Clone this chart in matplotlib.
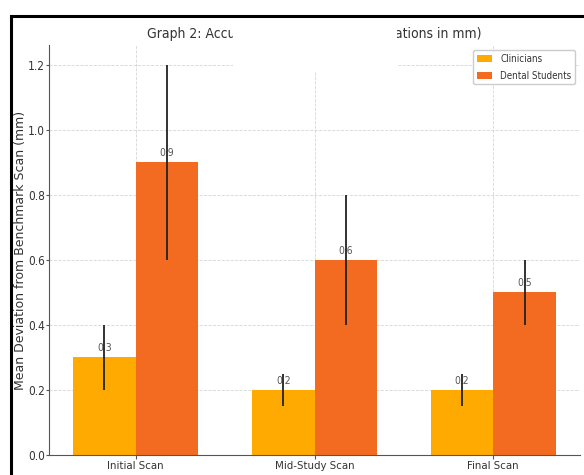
import matplotlib

matplotlib.use("Agg")
import matplotlib.pyplot as plt
import numpy as np
from matplotlib import font_manager
from matplotlib.patches import Rectangle

# data
stages = ["Initial Scan", "Mid-Study Scan", "Final Scan"]
clinicians = [0.3, 0.2, 0.2]
clinicians_err = [0.1, 0.05, 0.05]
students = [0.9, 0.6, 0.5]
students_err = [0.3, 0.2, 0.1]
groups = ["Clinicians", "Dental Students"]
title = "Graph 2: Accuracy of Scans (Mean Deviations in mm)"
ylabel = "Mean Deviation from Benchmark Scan (mm)"

# the reference is horizontally squeezed, so look for a narrow face
fonts = font_manager.fontManager.ttflist
names = {f.name for f in fonts}
if any(f.name == "DejaVu Sans" and "condensed" in str(f.stretch)
       for f in fonts):
    NARROW = dict(family="DejaVu Sans", stretch="condensed")
elif "Liberation Sans Narrow" in names:
    NARROW = dict(family="Liberation Sans Narrow")
else:
    NARROW = dict(family="Liberation Sans")

TXT = "#333333"
W, H = 584, 475

fig = plt.figure(figsize=(W / 100, H / 100), dpi=100)
ax = fig.add_axes([49 / W, 20 / H, 531 / W, 410 / H])

x = np.arange(len(stages))
width = 0.35
err_kw = dict(ecolor="#222222", elinewidth=1.3, capsize=0, zorder=3)
b1 = ax.bar(x - width / 2, clinicians, width, yerr=clinicians_err,
            color="#FFAA00", label=groups[0], error_kw=err_kw, zorder=1)
b2 = ax.bar(x + width / 2, students, width, yerr=students_err,
            color="#F26B21", label=groups[1], error_kw=err_kw, zorder=1)

for bars in (b1, b2):
    for rect in bars:
        h = rect.get_height()
        ax.annotate(f"{h}", (rect.get_x() + rect.get_width() / 2, h),
                    xytext=(0, 3), textcoords="offset points",
                    ha="center", va="bottom", fontsize=7.5, color="#555555",
                    zorder=2, **NARROW)

ax.set_xticks(x)
ax.set_xticklabels(stages, fontsize=8.2, color=TXT, **NARROW)
ax.set_ylim(0, 1.26)
ax.set_yticks(np.arange(0, 1.21, 0.2))
ax.set_yticklabels([f"{v:.1f}" for v in np.arange(0, 1.21, 0.2)],
                   fontsize=8.5, color=TXT, **NARROW)
ax.tick_params(axis="y", length=2.5, pad=0.5, color="#555555")
ax.tick_params(axis="x", length=3, pad=1, color="#555555")
ax.set_ylabel(ylabel, fontsize=9, color=TXT)
ax.yaxis.set_label_coords(-0.041, 0.5)
ax.set_title(title, fontsize=10, color=TXT, pad=5, **NARROW)

ax.grid(True, linestyle="--", linewidth=0.6, color="#cccccc", alpha=0.8)
ax.set_axisbelow(True)
for s in ("top", "right"):
    ax.spines[s].set_visible(False)
for s in ("left", "bottom"):
    ax.spines[s].set_color("#555555")

leg = ax.legend(loc="upper right", prop=dict(size=7, **NARROW),
                handlelength=1.6, labelspacing=0.7, borderaxespad=0.5,
                framealpha=1, edgecolor="#cccccc", fancybox=True)
for t in leg.get_texts():
    t.set_color(TXT)

# white patch hiding the middle of the title, as in the reference
fig.add_artist(Rectangle((233 / W, 1 - 72 / H), 164 / W, 55 / H,
                         transform=fig.transFigure, facecolor="white",
                         edgecolor="none", zorder=10))
# screenshot border (left and top only, rest is cropped away)
fig.add_artist(Rectangle((10.5 / W, -0.5), 2, 1.5 - 15.5 / H,
                         transform=fig.transFigure, fill=False,
                         edgecolor="black", linewidth=2.2, zorder=11))

fig.savefig("out.png", dpi=100)
